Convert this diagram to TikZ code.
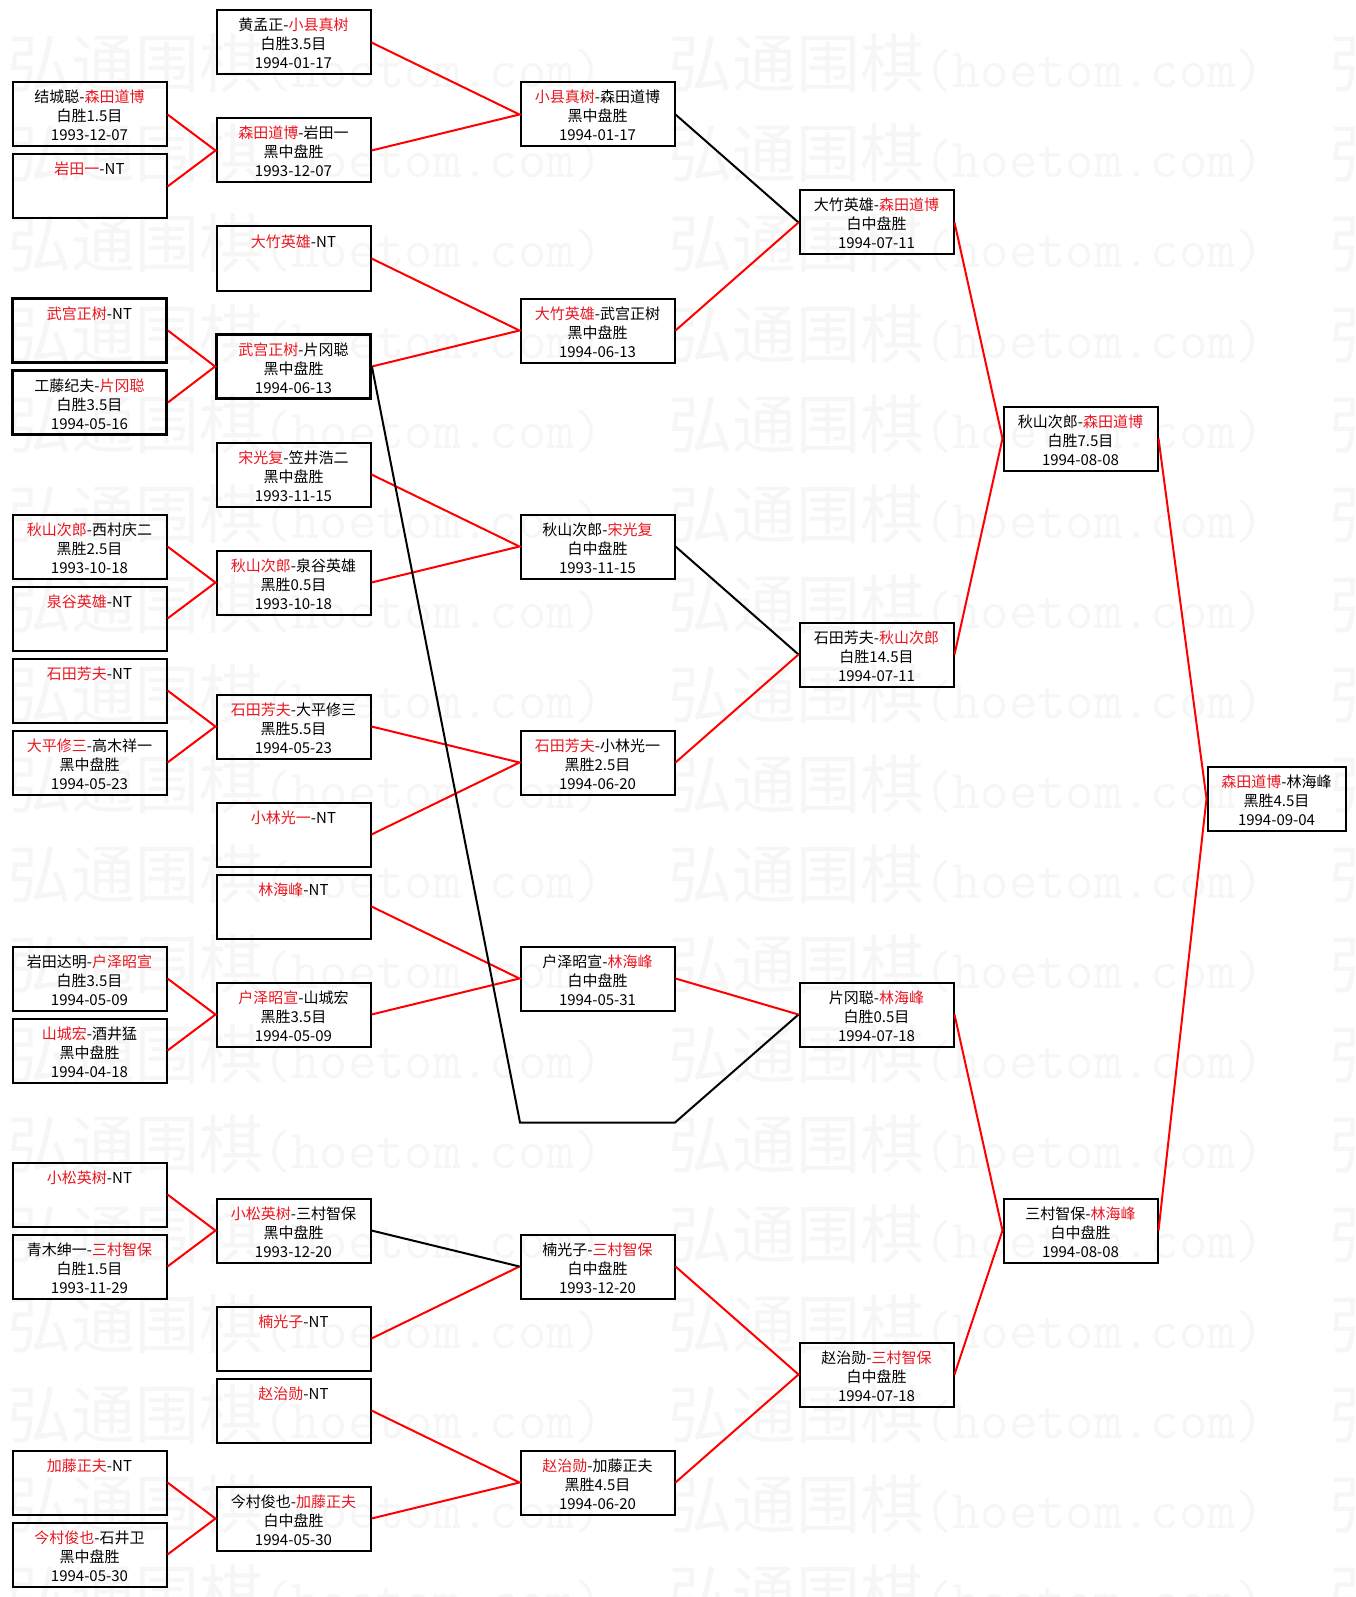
\documentclass[tikz,border=0pt]{standalone}
\usepackage{fontspec}
\setmainfont{Noto Sans CJK SC}
\usepackage{xcolor}
\usepackage{tikz}
\usetikzlibrary{positioning}

\definecolor{winred}{RGB}{232,22,32}
\newcommand{\wn}[1]{\textcolor{winred}{#1}}
\newcommand{\game}[3]{\rule{0pt}{18pt}#1\\#2\\#3\rule[-3pt]{0pt}{3pt}}

\begin{document}
\begin{tikzpicture}[x=1pt,y=-1pt,
  game/.style={draw=black,line width=2pt,minimum width=154pt,minimum height=64pt,
    inner sep=0pt,align=center,font=\fontsize{15}{19}\selectfont},
  heavy/.style={game,line width=2.8pt},
  final/.style={game,minimum width=138pt},
  win/.style={red,line width=2pt},
  lose/.style={black,line width=2pt},
  wmark/.style={anchor=base west,inner sep=0pt,text=black!3.5,font=\fontsize{64}{64}\selectfont}]
  \useasboundingbox (0,0) rectangle (1356,1597);
  \clip (0,0) rectangle (1356,1597);
  % watermark
  \foreach \r in {0,...,17}
    \foreach \c in {0,1,2}
      \node[wmark] (wm\r-\c) at ({7+661*\c},{88+90*\r})
        {弘通围棋{\ttfamily\fontsize{55}{55}\selectfont(hoetom.com)}};
  % first round
  \node[game] (c0r2) at (89.5,114.5) {\game{结城聪-\wn{森田道博}}{白胜1.5目}{1993-12-07}};
  \node[game] (c0r4) at (89.5,186.5) {\game{\wn{岩田一}-NT}{}{}};
  \node[heavy] (c0r8) at (89.5,330.5) {\game{\wn{武宫正树}-NT}{}{}};
  \node[heavy] (c0r10) at (89.5,402.5) {\game{工藤纪夫-\wn{片冈聪}}{白胜3.5目}{1994-05-16}};
  \node[game] (c0r14) at (89.5,546.5) {\game{\wn{秋山次郎}-西村庆二}{黑胜2.5目}{1993-10-18}};
  \node[game] (c0r16) at (89.5,618.5) {\game{\wn{泉谷英雄}-NT}{}{}};
  \node[game] (c0r18) at (89.5,690.5) {\game{\wn{石田芳夫}-NT}{}{}};
  \node[game] (c0r20) at (89.5,762.5) {\game{\wn{大平修三}-高木祥一}{黑中盘胜}{1994-05-23}};
  \node[game] (c0r26) at (89.5,978.5) {\game{岩田达明-\wn{户泽昭宣}}{白胜3.5目}{1994-05-09}};
  \node[game] (c0r28) at (89.5,1050.5) {\game{\wn{山城宏}-酒井猛}{黑中盘胜}{1994-04-18}};
  \node[game] (c0r32) at (89.5,1194.5) {\game{\wn{小松英树}-NT}{}{}};
  \node[game] (c0r34) at (89.5,1266.5) {\game{青木绅一-\wn{三村智保}}{白胜1.5目}{1993-11-29}};
  \node[game] (c0r40) at (89.5,1482.5) {\game{\wn{加藤正夫}-NT}{}{}};
  \node[game] (c0r42) at (89.5,1554.5) {\game{\wn{今村俊也}-石井卫}{黑中盘胜}{1994-05-30}};
  % second round
  \node[game] (c1r0) at (293.5,42.5) {\game{黄孟正-\wn{小县真树}}{白胜3.5目}{1994-01-17}};
  \node[game] (c1r3) at (293.5,150.5) {\game{\wn{森田道博}-岩田一}{黑中盘胜}{1993-12-07}};
  \node[game] (c1r6) at (293.5,258.5) {\game{\wn{大竹英雄}-NT}{}{}};
  \node[heavy] (c1r9) at (293.5,366.5) {\game{\wn{武宫正树}-片冈聪}{黑中盘胜}{1994-06-13}};
  \node[game] (c1r12) at (293.5,474.5) {\game{\wn{宋光复}-笠井浩二}{黑中盘胜}{1993-11-15}};
  \node[game] (c1r15) at (293.5,582.5) {\game{\wn{秋山次郎}-泉谷英雄}{黑胜0.5目}{1993-10-18}};
  \node[game] (c1r19) at (293.5,726.5) {\game{\wn{石田芳夫}-大平修三}{黑胜5.5目}{1994-05-23}};
  \node[game] (c1r22) at (293.5,834.5) {\game{\wn{小林光一}-NT}{}{}};
  \node[game] (c1r24) at (293.5,906.5) {\game{\wn{林海峰}-NT}{}{}};
  \node[game] (c1r27) at (293.5,1014.5) {\game{\wn{户泽昭宣}-山城宏}{黑胜3.5目}{1994-05-09}};
  \node[game] (c1r33) at (293.5,1230.5) {\game{\wn{小松英树}-三村智保}{黑中盘胜}{1993-12-20}};
  \node[game] (c1r36) at (293.5,1338.5) {\game{\wn{楠光子}-NT}{}{}};
  \node[game] (c1r38) at (293.5,1410.5) {\game{\wn{赵治勋}-NT}{}{}};
  \node[game] (c1r41) at (293.5,1518.5) {\game{今村俊也-\wn{加藤正夫}}{白中盘胜}{1994-05-30}};
  % third round
  \node[game] (c2r2) at (597.5,114.5) {\game{\wn{小县真树}-森田道博}{黑中盘胜}{1994-01-17}};
  \node[game] (c2r8) at (597.5,330.5) {\game{\wn{大竹英雄}-武宫正树}{黑中盘胜}{1994-06-13}};
  \node[game] (c2r14) at (597.5,546.5) {\game{秋山次郎-\wn{宋光复}}{白中盘胜}{1993-11-15}};
  \node[game] (c2r20) at (597.5,762.5) {\game{\wn{石田芳夫}-小林光一}{黑胜2.5目}{1994-06-20}};
  \node[game] (c2r26) at (597.5,978.5) {\game{户泽昭宣-\wn{林海峰}}{白中盘胜}{1994-05-31}};
  \node[game] (c2r34) at (597.5,1266.5) {\game{楠光子-\wn{三村智保}}{白中盘胜}{1993-12-20}};
  \node[game] (c2r40) at (597.5,1482.5) {\game{\wn{赵治勋}-加藤正夫}{黑胜4.5目}{1994-06-20}};
  \coordinate (v30w) at (520,1122.5);
  \coordinate (v30e) at (675,1122.5);
  % quarter finals
  \node[game] (c3r5) at (876.5,222.5) {\game{大竹英雄-\wn{森田道博}}{白中盘胜}{1994-07-11}};
  \node[game] (c3r17) at (876.5,654.5) {\game{石田芳夫-\wn{秋山次郎}}{白胜14.5目}{1994-07-11}};
  \node[game] (c3r27) at (876.5,1014.5) {\game{片冈聪-\wn{林海峰}}{白胜0.5目}{1994-07-18}};
  \node[game] (c3r37) at (876.5,1374.5) {\game{赵治勋-\wn{三村智保}}{白中盘胜}{1994-07-18}};
  % semi finals and final
  \node[game] (c4r11) at (1080.5,438.5) {\game{秋山次郎-\wn{森田道博}}{白胜7.5目}{1994-08-08}};
  \node[game] (c4r33) at (1080.5,1230.5) {\game{三村智保-\wn{林海峰}}{白中盘胜}{1994-08-08}};
  \node[final] (c5r21) at (1276.5,798.5) {\game{\wn{森田道博}-林海峰}{黑胜4.5目}{1994-09-04}};
  % connectors
  \draw[win] (c0r2.east)--(c1r3.west)--(c0r4.east)
    (c0r8.east)--(c1r9.west)--(c0r10.east)
    (c0r14.east)--(c1r15.west)--(c0r16.east)
    (c0r18.east)--(c1r19.west)--(c0r20.east)
    (c0r26.east)--(c1r27.west)--(c0r28.east)
    (c0r32.east)--(c1r33.west)--(c0r34.east)
    (c0r40.east)--(c1r41.west)--(c0r42.east);
  \draw[win] (c1r0.east)--(c2r2.west)--(c1r3.east)
    (c1r6.east)--(c2r8.west)--(c1r9.east)
    (c1r12.east)--(c2r14.west)--(c1r15.east)
    (c1r19.east)--(c2r20.west)--(c1r22.east)
    (c1r24.east)--(c2r26.west)--(c1r27.east)
    (c1r36.east)--(c2r34.west)
    (c1r38.east)--(c2r40.west)--(c1r41.east);
  \draw[lose] (c1r33.east)--(c2r34.west);
  \draw[lose] (c1r9.east)--(v30w)--(v30e)--(c3r27.west);
  \draw[lose] (c2r2.east)--(c3r5.west);
  \draw[lose] (c2r14.east)--(c3r17.west);
  \draw[win] (c2r8.east)--(c3r5.west)
    (c2r20.east)--(c3r17.west)
    (c2r26.east)--(c3r27.west)
    (c2r34.east)--(c3r37.west)--(c2r40.east);
  \draw[win] (c3r5.east)--(c4r11.west)--(c3r17.east)
    (c3r27.east)--(c4r33.west)--(c3r37.east);
  \draw[win] (c4r11.east)--(c5r21.west)--(c4r33.east);
\end{tikzpicture}
\end{document}
